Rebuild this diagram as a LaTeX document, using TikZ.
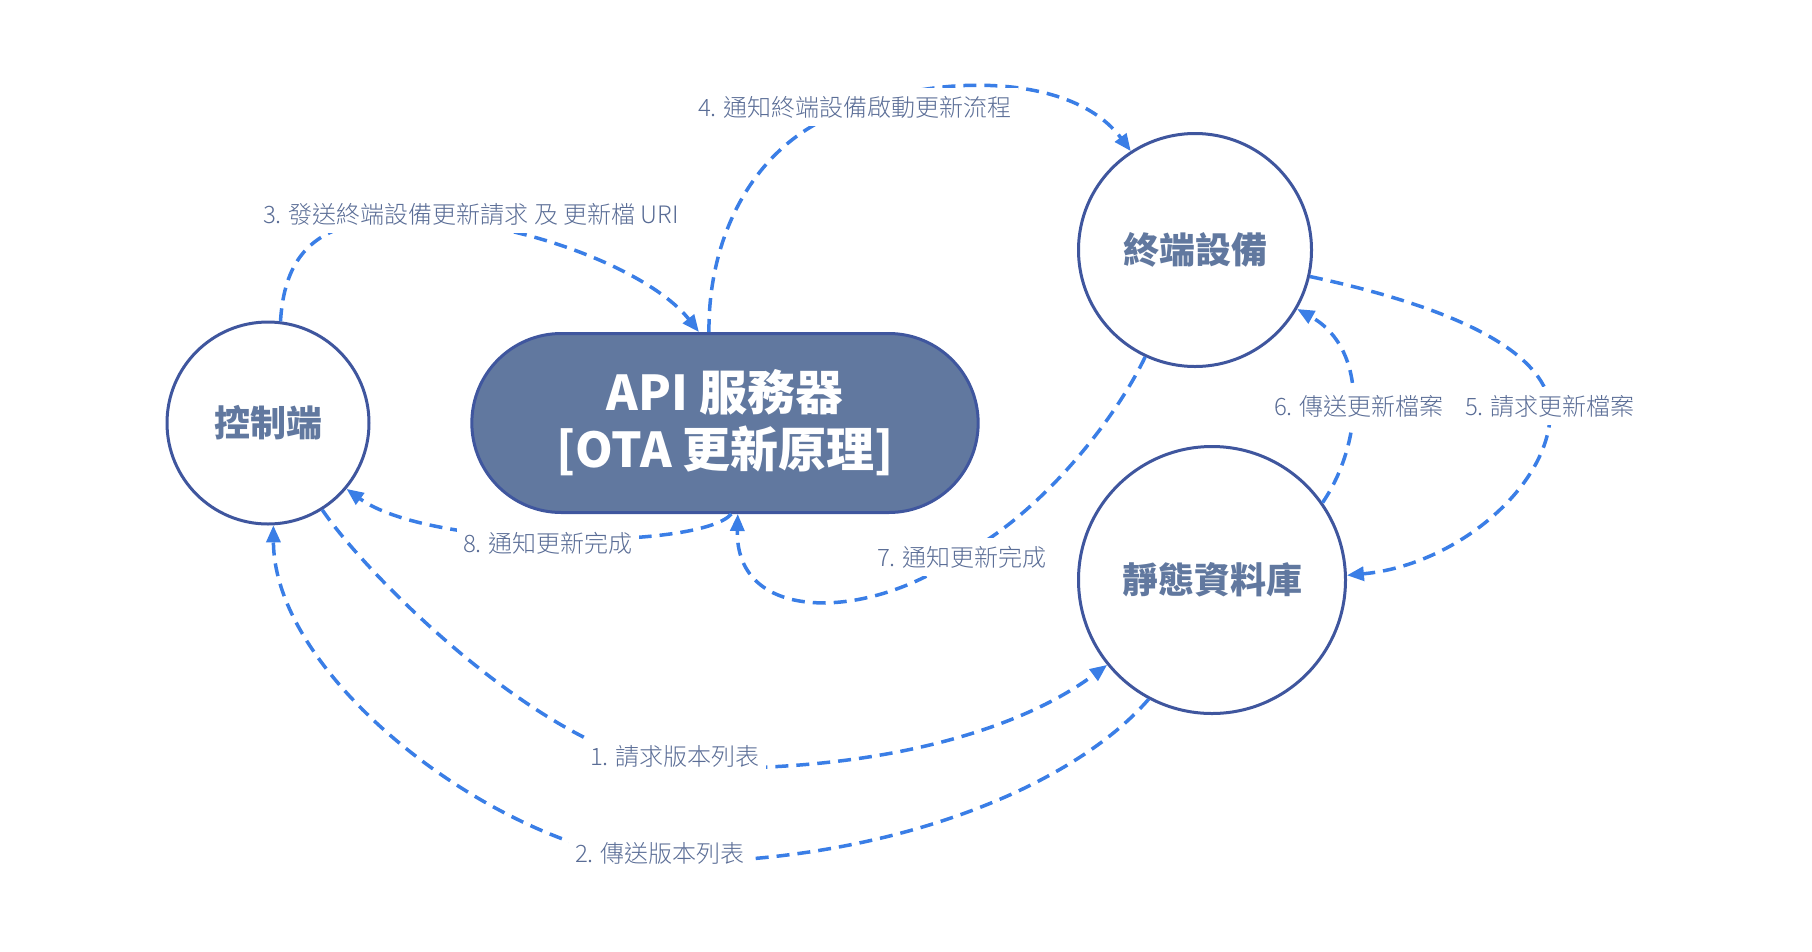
\documentclass[tikz,border=0pt]{standalone}
\usepackage{fontspec}
\setmainfont{Noto Sans CJK TC}
\newfontfamily\labfont{Noto Sans CJK TC Light}
\usetikzlibrary{arrows.meta,shapes.misc}
\definecolor{connblue}{HTML}{3A7EE6}
\definecolor{ringblue}{HTML}{3F569E}
\definecolor{slate}{HTML}{61789F}
\definecolor{labtext}{HTML}{5A6D96}
\begin{document}
\begin{tikzpicture}[x=1pt,y=-1pt,
  ring/.style={circle,draw=ringblue,line width=3pt,fill=white,inner sep=0pt,text=slate,font=\fontsize{36pt}{40pt}\selectfont\bfseries},
  pill/.style={rounded rectangle,draw=ringblue,line width=3pt,fill=slate,minimum width=513pt,minimum height=179pt,text=white,align=center,font=\fontsize{48pt}{57pt}\selectfont\bfseries},
  conn/.style={draw=connblue,line width=3.5pt,dash pattern=on 13pt off 8pt},
  arr/.style={conn,-{Triangle[length=17pt,width=14pt,fill=connblue]}},
  lab/.style={fill=white,inner xsep=6pt,inner ysep=8pt,text=labtext,font=\fontsize{24pt}{28pt}\labfont}]
\useasboundingbox (0,0) rectangle (1812,951);
% main nodes
\node[ring,minimum size=202pt] (ctl) at (268,423) {控制端};
\node[pill] (api) at (725,423) {API 服務器\\{[}OTA 更新原理]};
\node[ring,minimum size=233pt] (dev) at (1195,250) {終端設備};
\node[ring,minimum size=267pt] (db) at (1212,580) {靜態資料庫};
% connectors
\draw[arr] (ctl.-58) .. controls (370,580) and (560,768) .. (690,768)
  .. controls (880,772) and (1020,730) .. (db.219);
\draw[arr] (db.-118) .. controls (1070,790) and (880,865) .. (660,862)
  .. controls (500,850) and (274,680) .. (ctl.-87);
\draw[arr] (ctl.83) .. controls (285,250) and (320,215) .. (420,220)
  .. controls (520,220) and (650,270) .. (api.106);
\draw[arr] (api.100) .. controls (708,230) and (760,130) .. (865,105)
  .. controls (930,78) and (1070,70) .. (dev.123);
\draw[arr] (dev.-13) .. controls (1420,300) and (1540,340) .. (1550,405)
  .. controls (1556,480) and (1460,565) .. (db.2);
\draw[arr] (db.35) .. controls (1362,445) and (1370,350) .. (dev.-30);
\draw[arr] (dev.-115) .. controls (1115,420) and (1040,515) .. (960,556)
  .. controls (870,620) and (735,625) .. (api.-82);
\draw[arr] (api.-86) .. controls (700,550) and (430,550) .. (ctl.-40);
% labels
\node[lab] (l1) at (675,757) {1. 請求版本列表};
\node[lab] (l2) at (660,853) {2. 傳送版本列表};
\node[lab] (l3) at (471,214) {3. 發送終端設備更新請求 及 更新檔 URI};
\node[lab] (l4) at (855,107) {4. 通知終端設備啟動更新流程};
\node[lab] (l5) at (1550,406) {5. 請求更新檔案};
\node[lab] (l6) at (1359,406) {6. 傳送更新檔案};
\node[lab] (l7) at (962,557) {7. 通知更新完成};
\node[lab] (l8) at (548,543) {8. 通知更新完成};
\end{tikzpicture}
\end{document}
